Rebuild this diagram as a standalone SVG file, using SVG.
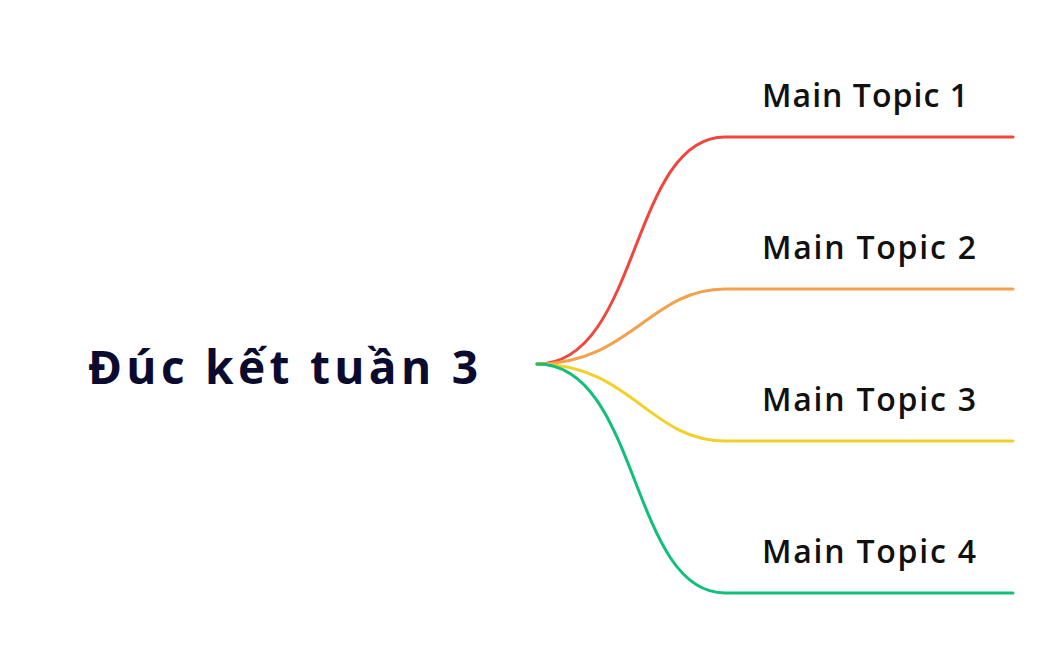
<svg xmlns="http://www.w3.org/2000/svg" width="1044" height="650" viewBox="0 0 1044 650">
<style>
.t{font-family:"Open Sans","Liberation Sans",sans-serif;font-weight:600;font-size:32px;fill:#111}
.c{fill:none;stroke-width:3;stroke-linecap:round}
</style>
<rect width="1044" height="650" fill="#fff"/>
<g id="connectors">
<path class="c" stroke="#f0463c" d="M537,364 C640,364 630,137 725,137 L1013,137"/>
<path class="c" stroke="#f5a04a" d="M537,364 C630,364 650,289 725,289 L1013,289"/>
<path class="c" stroke="#f2d02a" d="M537,364 C630,364 650,441 725,441 L1013,441"/>
<path class="c" stroke="#10c07a" d="M537,364 C640,364 630,593 725,593 L1013,593"/>
</g>
<g id="root"><text x="88" y="384" textLength="390" lengthAdjust="spacing" font-family="'Open Sans','Liberation Sans',sans-serif" font-weight="700" font-size="46" fill="#0b0b2f">Đúc kết tuần 3</text></g>
<g id="topic1"><text class="t" x="762" y="107" textLength="206" lengthAdjust="spacing">Main Topic 1</text></g>
<g id="topic2"><text class="t" x="762" y="259" textLength="214" lengthAdjust="spacing">Main Topic 2</text></g>
<g id="topic3"><text class="t" x="762" y="411" textLength="214" lengthAdjust="spacing">Main Topic 3</text></g>
<g id="topic4"><text class="t" x="762" y="563" textLength="214" lengthAdjust="spacing">Main Topic 4</text></g>
</svg>
